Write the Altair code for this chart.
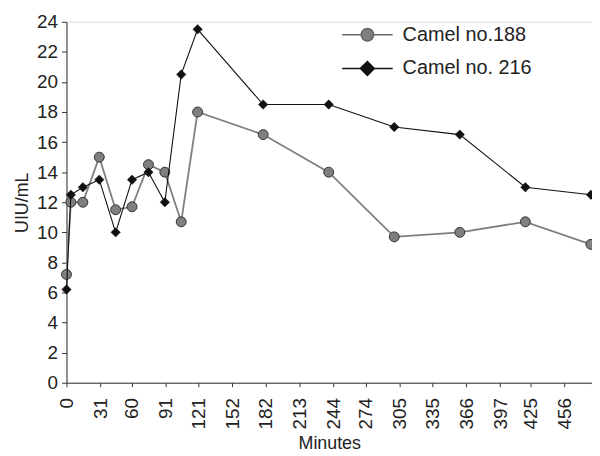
import altair as alt
import pandas as pd

minutes = [0, 4, 15, 30, 45, 60, 75, 90, 105, 120, 180, 240, 300, 360, 420, 480]
camel_188 = [7.2, 12.0, 12.0, 15.0, 11.5, 11.7, 14.5, 14.0, 10.7, 18.0, 16.5, 14.0, 9.7, 10.0, 10.7, 9.2]
camel_216 = [6.2, 12.5, 13.0, 13.5, 10.0, 13.5, 14.0, 12.0, 20.5, 23.5, 18.5, 18.5, 17.0, 16.5, 13.0, 12.5]
series_names = ["Camel no.188", "Camel no. 216"]
x_ticks = [0, 31, 60, 91, 121, 152, 182, 213, 244, 274, 305, 335, 366, 397, 425, 456, 481]
y_ticks = list(range(0, 25, 2))

df = pd.concat([
    pd.DataFrame({"Minutes": minutes, "value": camel_188, "series": series_names[0]}),
    pd.DataFrame({"Minutes": minutes, "value": camel_216, "series": series_names[1]}),
])

FONT = "Liberation Sans"
GRAY = "#7f7f7f"
BLACK = "#111111"

circle_path = "M-3.64,0H-0.9M0.9,0H3.64M-0.9,0A0.9,0.9,0,1,0,0.9,0A0.9,0.9,0,1,0,-0.9,0Z"
diamond_path = "M-3.64,0H3.64M-1,0L0,-1L1,0L0,1Z"

x_enc = alt.X("Minutes:Q",
              scale=alt.Scale(domain=[0, 481], nice=False, zero=False),
              axis=alt.Axis(values=x_ticks, labelAngle=-90, grid=False,
                            labelExpr="datum.value > 470 ? '' : datum.label",
                            tickSize=4, labelPadding=11, labelFontSize=19,
                            labelFont=FONT, labelColor="#222", title="Minutes",
                            titleFont=FONT, titleFontSize=18, titleFontWeight="normal",
                            titleColor="#222", titleY=66, titleBaseline="alphabetic",
                            domainColor="#333", tickColor="#333"))
y_enc = alt.Y("value:Q",
              scale=alt.Scale(domain=[0, 24], nice=False),
              axis=alt.Axis(values=y_ticks, grid=False, tickSize=5, labelPadding=4,
                            labelFontSize=19, labelFont=FONT, labelColor="#222",
                            title="UIU/mL", titleFont=FONT, titleFontSize=18,
                            titleFontWeight="normal", titleColor="#222",
                            titleX=-39, titleY=182, titleBaseline="alphabetic",
                            titleAngle=-90, titleAlign="center",
                            domainColor="#333", tickColor="#333"))

legend = alt.Legend(
    title=None, orient="none", legendX=293.5, legendY=3, padding=0,
    symbolSize=196, labelOffset=25.5, labelFontSize=20, labelFont=FONT,
    labelColor="#222", rowPadding=14, symbolStrokeWidth=1.5, symbolOpacity=1,
)

base = alt.Chart(df)
gray_line = base.transform_filter(alt.datum.series == series_names[0]).mark_line(
    color=GRAY, strokeWidth=1.8).encode(x=x_enc, y=y_enc)
gray_pts = base.transform_filter(alt.datum.series == series_names[0]).mark_point(
    shape="circle", filled=True, fill=GRAY, stroke="#333333", strokeWidth=1, size=100,
    opacity=1).encode(x=x_enc, y=y_enc)
black_line = base.transform_filter(alt.datum.series == series_names[1]).mark_line(
    color=BLACK, strokeWidth=1.1).encode(x=x_enc, y=y_enc)
black_pts = base.transform_filter(alt.datum.series == series_names[1]).mark_point(
    shape="diamond", filled=True, fill=BLACK, stroke=BLACK, strokeWidth=0.5, size=90,
    opacity=1).encode(x=x_enc, y=y_enc)

legend_layer = base.transform_filter("false").mark_point(filled=True, opacity=1).encode(
    x=x_enc, y=y_enc,
    shape=alt.Shape("series:N", scale=alt.Scale(domain=series_names, range=[circle_path, diamond_path]), legend=legend),
    fill=alt.Fill("series:N", scale=alt.Scale(domain=series_names, range=[GRAY, BLACK]), legend=legend),
    stroke=alt.Stroke("series:N", scale=alt.Scale(domain=series_names, range=["#666666", BLACK]), legend=legend),
)

chart = alt.layer(gray_line, gray_pts, black_line, black_pts, legend_layer).properties(
    width=530, height=364,
    autosize=alt.AutoSizeParams(type="none"),
    padding={"left": 59, "top": 12, "right": 0, "bottom": 72},
).configure_view(stroke=None).configure(background="white")

chart.save("out.html", embed_options={"renderer": "svg", "actions": False})
